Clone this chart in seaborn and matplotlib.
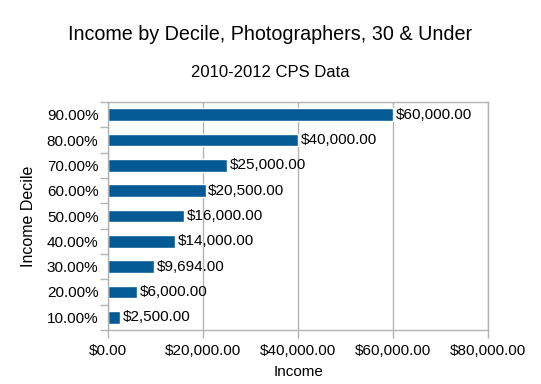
import numpy as np
import pandas as pd
import seaborn as sns
import matplotlib
matplotlib.use('Agg')
import matplotlib.pyplot as plt

# data
deciles = ['90.00%', '80.00%', '70.00%', '60.00%', '50.00%',
           '40.00%', '30.00%', '20.00%', '10.00%']
income = [60000, 40000, 25000, 20500, 16000, 14000, 9694, 6000, 2500]
xticks = [0, 20000, 40000, 60000, 80000]

df = pd.DataFrame({'Decile': deciles, 'Income': income})

sns.set_style('white')
plt.rcParams['font.family'] = ['Liberation Sans', 'DejaVu Sans']
plt.rcParams['text.color'] = 'black'
plt.rcParams['axes.labelcolor'] = 'black'
plt.rcParams['xtick.color'] = 'black'
plt.rcParams['ytick.color'] = 'black'

fig = plt.figure(figsize=(5.41, 3.84), dpi=100)
ax = fig.add_axes([0.2, 0.141, 0.702, 0.593])

sns.barplot(data=df, x='Income', y='Decile', order=deciles, color='#045a95',
            saturation=1, width=0.5, ax=ax)

ax.bar_label(ax.containers[0], labels=[f'${v:,.2f}' for v in income],
             padding=2, fontsize=11, color='black')

ax.set_xlim(0, 80000)
ax.set_xticks(xticks)
ax.set_xticklabels([f'${v:,.2f}' for v in xticks], fontsize=11)
ax.set_yticklabels(deciles, fontsize=11)
ax.set_ylim(len(deciles) - 0.5, -0.5)

# ticks between the categories on the y axis
ax.set_yticks(np.arange(-0.5, len(deciles)), minor=True)
ax.tick_params(axis='y', which='major', left=False, length=0, pad=7)
ax.tick_params(axis='y', which='minor', left=True, length=6, color='#b3b3b3', width=1)
ax.tick_params(axis='x', which='major', bottom=True, length=6, color='#b3b3b3',
               width=1, pad=4, labelcolor='black')

ax.xaxis.grid(True, color='#b3b3b3', linewidth=1)
ax.set_axisbelow(True)
for s in ax.spines.values():
    s.set_visible(True)
    s.set_color('#b3b3b3')
    s.set_linewidth(1)

ax.set_xlabel('Income', fontsize=11, labelpad=5)
ax.set_ylabel('Income Decile', fontsize=11.5, labelpad=8)

fig.text(0.5, 0.91, 'Income by Decile, Photographers, 30 & Under',
         ha='center', va='center', fontsize=14.2)
fig.text(0.5, 0.81, '2010-2012 CPS Data', ha='center', va='center', fontsize=12)

fig.savefig('out.png', dpi=100)
